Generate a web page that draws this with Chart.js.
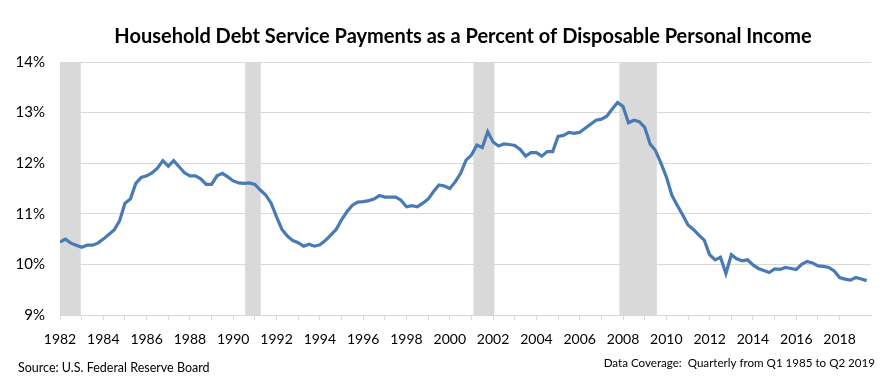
<!DOCTYPE html>
<html>
<head>
<meta charset="utf-8">
<script src="https://cdn.jsdelivr.net/npm/chart.js@4.4.1/dist/chart.umd.min.js"></script>
<style>
  html, body { margin: 0; padding: 0; background: #fff; }
  #wrap { width: 894px; height: 377px; position: relative; }
</style>
</head>
<body>
<div id="wrap"><canvas id="chart1"></canvas></div>
<script>
// Quarterly data, first point is Q1 1982
const startYear = 1982;
const debtService = [
    10.44, 10.50, 10.42, 10.38, // 1982
    10.34, 10.38, 10.38, 10.42, // 1983
    10.50, 10.59, 10.68, 10.86, // 1984
    11.21, 11.29, 11.60, 11.72, // 1985
    11.75, 11.81, 11.90, 12.05, // 1986
    11.94, 12.05, 11.93, 11.81, // 1987
    11.75, 11.75, 11.69, 11.58, // 1988
    11.58, 11.75, 11.80, 11.73, // 1989
    11.65, 11.61, 11.60, 11.61, // 1990
    11.58, 11.47, 11.37, 11.21, // 1991
    10.94, 10.69, 10.56, 10.47, // 1992
    10.43, 10.36, 10.40, 10.36, // 1993
    10.39, 10.47, 10.58, 10.69, // 1994
    10.88, 11.04, 11.17, 11.23, // 1995
    11.24, 11.26, 11.29, 11.36, // 1996
    11.33, 11.33, 11.33, 11.27, // 1997
    11.14, 11.16, 11.14, 11.21, // 1998
    11.29, 11.44, 11.57, 11.55, // 1999
    11.50, 11.63, 11.80, 12.06, // 2000
    12.16, 12.36, 12.31, 12.62, // 2001
    12.42, 12.34, 12.38, 12.37, // 2002
    12.35, 12.27, 12.14, 12.21, // 2003
    12.21, 12.14, 12.23, 12.23, // 2004
    12.53, 12.55, 12.61, 12.59, // 2005
    12.61, 12.69, 12.77, 12.85, // 2006
    12.87, 12.93, 13.07, 13.20, // 2007
    13.12, 12.80, 12.85, 12.82, // 2008
    12.71, 12.38, 12.25, 12.00, // 2009
    11.73, 11.37, 11.17, 10.98, // 2010
    10.78, 10.69, 10.58, 10.48, // 2011
    10.19, 10.09, 10.14, 9.82,  // 2012
    10.19, 10.11, 10.07, 10.09, // 2013
    9.99, 9.92, 9.88, 9.84,     // 2014
    9.91, 9.90, 9.94, 9.92,     // 2015
    9.90, 10.00, 10.06, 10.03,  // 2016
    9.97, 9.96, 9.94, 9.87,     // 2017
    9.74, 9.71, 9.69, 9.74,     // 2018
    9.71, 9.68                  // 2019
];

// Recession shading (fractional years)
const recessionStart = [1982.0, 1990.55, 2001.09, 2007.83];
const recessionEnd = [1982.96, 1991.27, 2002.06, 2009.56];

const yTicks = [9, 10, 11, 12, 13, 14];

const chartTitle = 'Household Debt Service Payments as a Percent of Disposable Personal Income';
const sourceText = 'Source: U.S. Federal Reserve Board';
const coverageText = 'Data Coverage:  Quarterly from Q1 1985 to Q2 2019';

const points = debtService.map((v, i) => ({ x: startYear + i / 4, y: v }));

// Grey recession bars, drawn over the grid but under the line
const recessionBars = {
    id: 'recessionBars',
    beforeDatasetsDraw(chart) {
        const { ctx, chartArea, scales } = chart;
        ctx.save();
        ctx.fillStyle = '#d9d9d9';
        recessionStart.forEach((s, i) => {
            const x1 = scales.x.getPixelForValue(s);
            const x2 = scales.x.getPixelForValue(recessionEnd[i]);
            ctx.fillRect(x1, chartArea.top, x2 - x1, chartArea.bottom - chartArea.top);
        });
        ctx.restore();
    }
};

// Title and footnotes
const texts = {
    id: 'texts',
    afterDraw(chart) {
        const ctx = chart.ctx;
        ctx.save();
        ctx.fillStyle = '#000';
        ctx.textBaseline = 'middle';
        ctx.textAlign = 'center';
        ctx.font = 'bold 20px Lato';
        ctx.fillText(chartTitle, 463, 37);
        ctx.font = '12.5px Lato';
        ctx.textAlign = 'left';
        ctx.fillText(sourceText, 18, 368);
        ctx.font = '11.6px Lato';
        ctx.textAlign = 'right';
        ctx.fillText(coverageText, 875, 363);
        ctx.restore();
    }
};

window.onload = () => {
    const ctx1 = document.getElementById('chart1').getContext('2d');
    new Chart(ctx1, {
        type: 'line',
        data: {
            datasets: [{
                data: points,
                borderColor: '#4a7ab5',
                borderWidth: 3.2,
                pointRadius: 0,
                tension: 0,
                fill: false
            }]
        },
        options: {
            responsive: true,
            maintainAspectRatio: false,
            animation: false,
            layout: { padding: { top: 62, right: 23, bottom: 22, left: 0 } },
            plugins: {
                legend: { display: false },
                tooltip: { enabled: false }
            },
            scales: {
                x: {
                    type: 'linear',
                    min: 1982,
                    max: 2019.45,
                    afterBuildTicks: (scale) => {
                        scale.ticks = scale.ticks.filter(t => Number.isInteger(t.value));
                    },
                    afterFit: (scale) => { scale.height = 40; },
                    ticks: {
                        stepSize: 1,
                        autoSkip: false,
                        maxRotation: 0,
                        padding: 11,
                        color: '#000',
                        font: { family: 'Lato', size: 14 },
                        callback: (v) => (v % 2 === 0 ? String(v) : '')
                    },
                    grid: {
                        drawOnChartArea: false,
                        tickLength: 5,
                        color: '#d9d9d9'
                    },
                    border: { color: '#d9d9d9' }
                },
                y: {
                    min: yTicks[0],
                    max: yTicks[yTicks.length - 1],
                    afterBuildTicks: (scale) => {
                        scale.ticks = yTicks.map(v => ({ value: v }));
                    },
                    afterFit: (scale) => { scale.width = 60; },
                    ticks: {
                        padding: 15,
                        color: '#000',
                        font: { family: 'Lato', size: 15 },
                        callback: (v) => v + '%'
                    },
                    grid: { color: '#d9d9d9', drawTicks: false },
                    border: { display: false }
                }
            }
        },
        plugins: [recessionBars, texts]
    });
};
</script>
</body>
</html>
